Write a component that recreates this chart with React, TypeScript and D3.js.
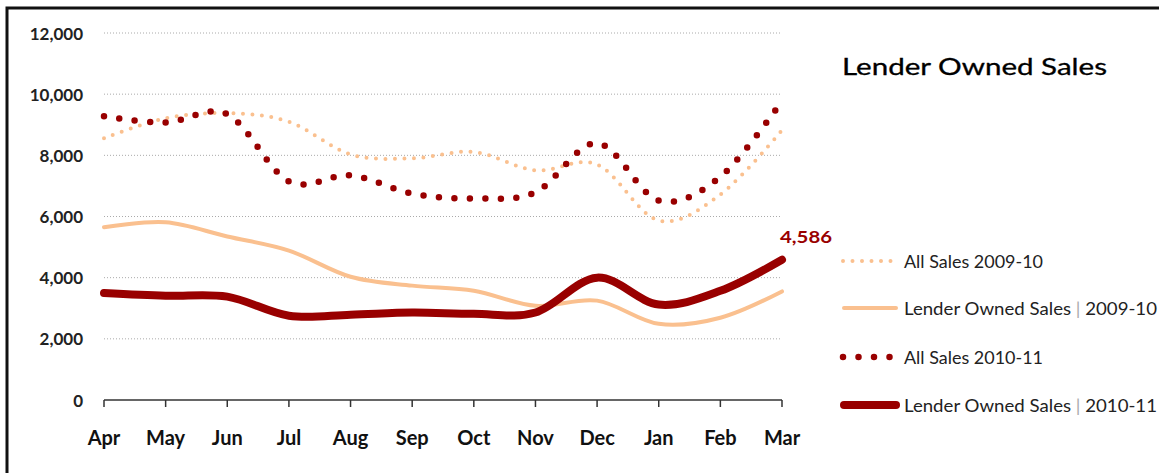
import * as React from 'react';
import {line, curveCardinal, scaleLinear, scalePoint} from 'd3';

const months = ['Apr', 'May', 'Jun', 'Jul', 'Aug', 'Sep', 'Oct', 'Nov', 'Dec', 'Jan', 'Feb', 'Mar'];
const allSales0910 = [8560, 9210, 9380, 9100, 8030, 7900, 8110, 7510, 7700, 5870, 6720, 8820];
const lenderOwned0910 = [5650, 5810, 5345, 4885, 4030, 3740, 3575, 3080, 3250, 2490, 2690, 3550];
const allSales1011 = [9280, 9070, 9345, 7150, 7345, 6750, 6590, 6790, 8400, 6525, 7300, 9780];
const lenderOwned1011 = [3500, 3410, 3380, 2755, 2790, 2860, 2820, 2860, 4000, 3120, 3570, 4586];
const yTicks = [0, 2000, 4000, 6000, 8000, 10000, 12000];

const width = 1159;
const height = 473;
const darkRed = '#990000';
const peach = '#FAC08F';

const xScale = scalePoint<string>().domain(months).range([104, 782]);
const yScale = scaleLinear().domain([0, 12000]).range([400, 33]);

const makeLine = line<number>()
    .x((d, i) => xScale(months[i]) as number)
    .y(d => yScale(d))
    .curve(curveCardinal.tension(0));

const series = [
    {name: 'All Sales 2009-10', values: allSales0910, color: peach, width: 4, dash: '0 9.5'},
    {name: 'Lender Owned Sales | 2009-10', values: lenderOwned0910, color: peach, width: 4, dash: ''},
    {name: 'All Sales 2010-11', values: allSales1011, color: darkRed, width: 6.5, dash: '0 15.5'},
    {name: 'Lender Owned Sales | 2010-11', values: lenderOwned1011, color: darkRed, width: 8, dash: ''},
];

const legendY = [261, 308, 357, 405];

export default function App() {
    const font = 'Lato, "Open Sans", sans-serif';
    const last = lenderOwned1011[lenderOwned1011.length - 1];
    return (
        <svg width={width} height={height}
             style={{position: 'absolute', left: 0, top: 0, background: '#fff'}}
             fontFamily={font}>
            {/* frame */}
            <path d={`M7,${height + 5} L7,8 L${width + 5},8`} fill="none" stroke="#111" strokeWidth={3}/>

            {/* grid + y labels */}
            {yTicks.map(t => (
                <g key={t}>
                    {t > 0 && <line x1={104} x2={780} y1={yScale(t)} y2={yScale(t)}
                                    stroke="#aaa" strokeWidth={1} strokeDasharray="1 2"/>}
                    <text x={83} y={yScale(t)} textAnchor="end" dominantBaseline="central"
                          fontSize={17} fontWeight={700} fill="#222">{t.toLocaleString('en-US')}</text>
                </g>
            ))}

            {/* x axis */}
            <line x1={104} x2={782} y1={400} y2={400} stroke="#333" strokeWidth={1.5}/>
            {months.map(m => (
                <g key={m}>
                    <line x1={xScale(m)} x2={xScale(m)} y1={400} y2={407} stroke="#333" strokeWidth={1.5}/>
                    <text x={xScale(m)} y={445} textAnchor="middle" fontSize={20} fontWeight={700}
                          fill="#111">{m}</text>
                </g>
            ))}

            {/* series */}
            {series.map(s => (
                <path key={s.name} d={makeLine(s.values) || ''} fill="none" stroke={s.color}
                      strokeWidth={s.width} strokeLinecap="round" strokeLinejoin="round"
                      strokeDasharray={s.dash || undefined}/>
            ))}

            {/* last value label */}
            <text x={780} y={243} fontSize={17} fontWeight={700} fill={darkRed}
                  textLength={52} lengthAdjust="spacingAndGlyphs">{last.toLocaleString('en-US')}</text>

            {/* title */}
            <text x={842} y={75} fontSize={23} fill="#000" stroke="#000" strokeWidth={0.3}
                  textLength={265} lengthAdjust="spacingAndGlyphs">Lender Owned Sales</text>

            {/* legend */}
            {series.map((s, i) => {
                const parts = s.name.split('|');
                const long = parts.length > 1;
                return (
                    <g key={s.name}>
                        <line x1={s.dash ? 843 : 844} x2={s.dash ? 891 : 896} y1={legendY[i]} y2={legendY[i]}
                              stroke={s.color} strokeWidth={s.width} strokeLinecap="round"
                              strokeDasharray={s.dash || undefined}/>
                        <text x={904} y={legendY[i]} dominantBaseline="central" fontSize={17} fill="#222"
                              textLength={long ? 253 : 139} lengthAdjust="spacingAndGlyphs">
                            {long ? (
                                <>
                                    {parts[0]}
                                    <tspan fill="#aaa">|</tspan>
                                    {parts[1]}
                                </>
                            ) : s.name}
                        </text>
                    </g>
                );
            })}
        </svg>
    );
}
